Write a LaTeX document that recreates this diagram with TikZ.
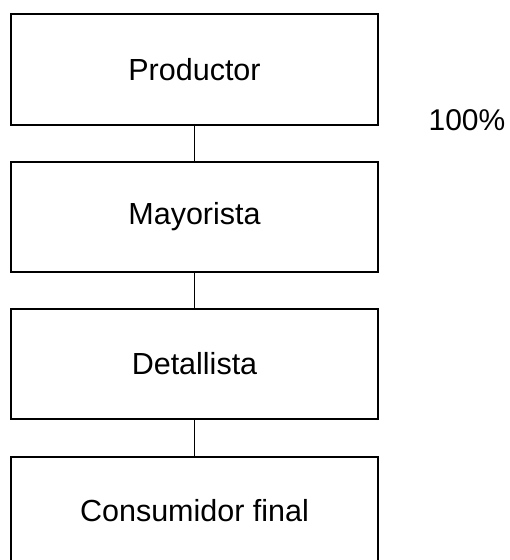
\documentclass[tikz,border=0pt]{standalone}
\usepackage{fontspec}
\setmainfont{Liberation Sans}
\begin{document}
\begin{tikzpicture}[x=1pt,y=-1pt,
  stagebox/.style={draw=black, line width=1.3pt, minimum width=367pt, minimum height=110pt, inner sep=0pt, font=\fontsize{30.5}{36}\selectfont},
  link/.style={draw=black, line width=1.2pt}]
\useasboundingbox (0,0) rectangle (510,560);
\clip (0,0) rectangle (510,560);
\node[stagebox, minimum height=111pt] (p) at (194.5,69.5) {Productor};
\node[stagebox] (m) at (194.5,217) {Mayorista};
\node[stagebox] (d) at (194.5,364) {Detallista};
\node[stagebox, minimum height=108pt] (c) at (194.5,511) {Consumidor final};
\node[font=\fontsize{30}{36}\selectfont, inner sep=0pt] (pct) at (467,120) {100\%};
\draw[link] (p.south) -- (m.north);
\draw[link] (m.south) -- (d.north);
\draw[link] (d.south) -- (c.north);
\end{tikzpicture}
\end{document}
